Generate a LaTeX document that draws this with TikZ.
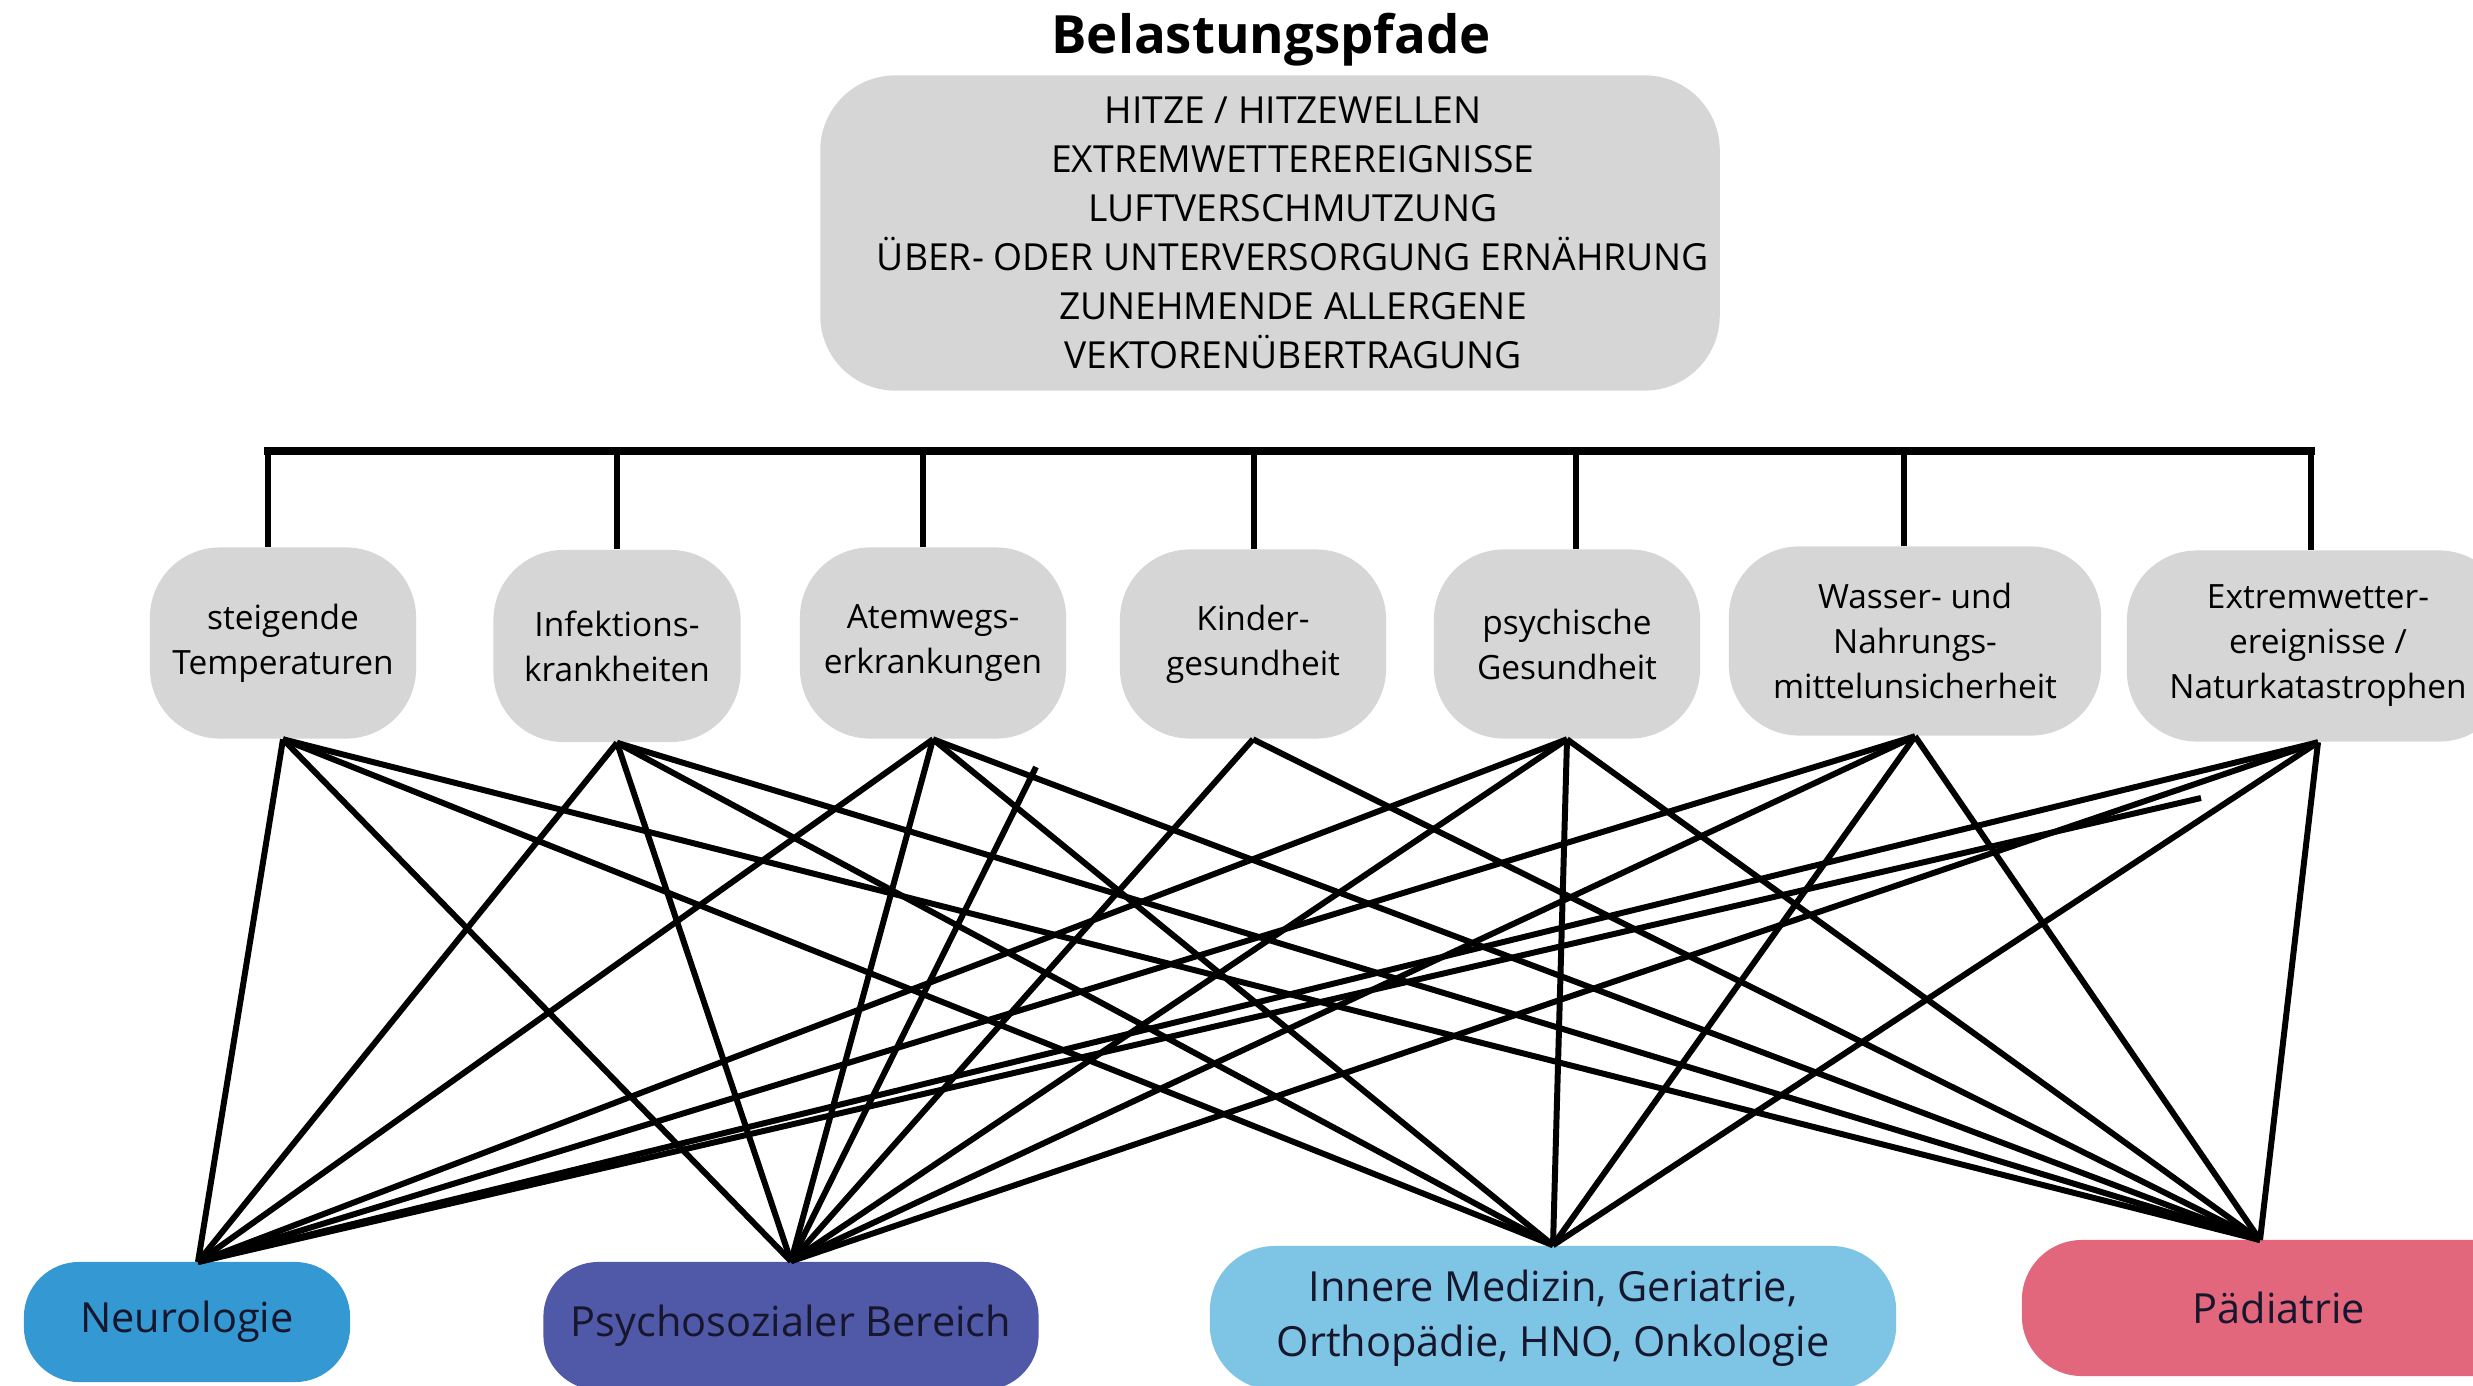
\documentclass[tikz,border=0pt]{standalone}
\usepackage{fontspec}
\setmainfont{Open Sans}
\definecolor{boxgray}{HTML}{D6D6D6}
\definecolor{neuro}{HTML}{3498D2}
\definecolor{psycho}{HTML}{5058A8}
\definecolor{innere}{HTML}{7EC4E4}
\definecolor{paed}{HTML}{E2667C}
\definecolor{labeltext}{HTML}{16162C}

\begin{document}
\begin{tikzpicture}[x=0.01cm,y=-0.01cm,
  pathbox/.style={fill=boxgray, rounded corners=0.7cm, align=center, inner sep=0pt,
    minimum height=1.91cm, font=\fontsize{9.5}{12.8}\selectfont},
  fieldbox/.style={rounded corners=0.55cm, align=center, inner sep=0pt, text=labeltext,
    font=\fontsize{11.8}{15.6}\selectfont},
  link/.style={line width=1.7pt, black},
  bus/.style={line width=2pt, black},
  drop/.style={line width=1.7pt, black}]
\useasboundingbox (0,0) rectangle (2473,1385);
\clip (0,0) rectangle (2473,1385);
\fill[white] (0,0) rectangle (2473,1385);

% title and list of exposure pathways
\node[font=\fontsize{15}{17}\selectfont\bfseries] (title) at (1271,40) {Belastungspfade};
\node[fill=boxgray, rounded corners=0.75cm, minimum width=8.99cm, minimum height=3.15cm] (topbox) at (1270,233) {};
\node[align=center, inner sep=0pt, font=\fontsize{10.6}{13.9}\selectfont] (toptext) at (1293,233)
  {HITZE / HITZEWELLEN\\EXTREMWETTEREREIGNISSE\\LUFTVERSCHMUTZUNG\\
   ÜBER- ODER UNTERVERSORGUNG ERNÄHRUNG\\ZUNEHMENDE ALLERGENE\\VEKTORENÜBERTRAGUNG};

% health impact nodes
\node[pathbox, minimum width=2.66cm] (m1) at (283,643) {steigende\\Temperaturen};
\node[pathbox, minimum width=2.47cm, minimum height=1.92cm] (m2) at (617,646) {Infektions-\\krankheiten};
\node[pathbox, minimum width=2.66cm] (m3) at (933,643) {Atemwegs-\\erkrankungen};
\node[pathbox, minimum width=2.66cm, minimum height=1.89cm] (m4) at (1253,644) {Kinder-\\gesundheit};
\node[pathbox, minimum width=2.66cm, minimum height=1.89cm] (m5) at (1567,644) {psychische\\Gesundheit};
\node[pathbox, minimum width=3.72cm, minimum height=1.89cm] (m6) at (1915,641) {Wasser- und\\Nahrungs-\\mittelunsicherheit};
\node[pathbox, minimum width=3.82cm] (m7) at (2318,646) {Extremwetter-\\ereignisse /\\Naturkatastrophen};

% medical fields
\node[fieldbox, fill=neuro, minimum width=3.26cm, minimum height=1.20cm] (b1) at (187,1322) {Neurologie};
\node[fieldbox, fill=psycho, minimum width=4.95cm, minimum height=1.28cm] (b2) at (791,1326) {Psychosozialer Bereich};
\node[fieldbox, fill=innere, rounded corners=0.65cm, minimum width=6.86cm, minimum height=1.44cm] (b3) at (1553,1318)
  {Innere Medizin, Geriatrie,\\Orthopädie, HNO, Onkologie};
\node[fieldbox, fill=paed, rounded corners=0.6cm, minimum width=5.14cm, minimum height=1.36cm] (b4) at (2279,1308) {Pädiatrie};

% distribution bus
\coordinate (d1) at (268,451);
\coordinate (d2) at (617,451);
\coordinate (d3) at (923,451);
\coordinate (d4) at (1254,451);
\coordinate (d5) at (1576,451);
\coordinate (d6) at (1904,451);
\coordinate (d7) at (2311,451);
\foreach \i in {1,...,7} \draw[drop] (d\i) -- (d\i |- m\i.north);
\draw[bus, line cap=rect] (d1) -- (d7);

% connection points on the field boxes
\coordinate (e1) at (198,1262);
\coordinate (e4) at (2260,1240);
\coordinate (s1) at (1036,767);
\coordinate (s2) at (2201,798);

\foreach \m in {m1,m2,m3,m5,m6,m7} \draw[link] (\m.south) -- (e1);
\foreach \m in {m1,m2,m3,m4,m5,m6,m7} \draw[link] (\m.south) -- (b2.north);
\foreach \m in {m1,m2,m3,m5,m6,m7} \draw[link] (\m.south) -- (b3.north);
\foreach \m in {m1,m2,m3,m4,m5,m6,m7} \draw[link] (\m.south) -- (e4);
\draw[link] (s1) -- (b2.north);
\draw[link] (s2) -- (e1);
\end{tikzpicture}
\end{document}
